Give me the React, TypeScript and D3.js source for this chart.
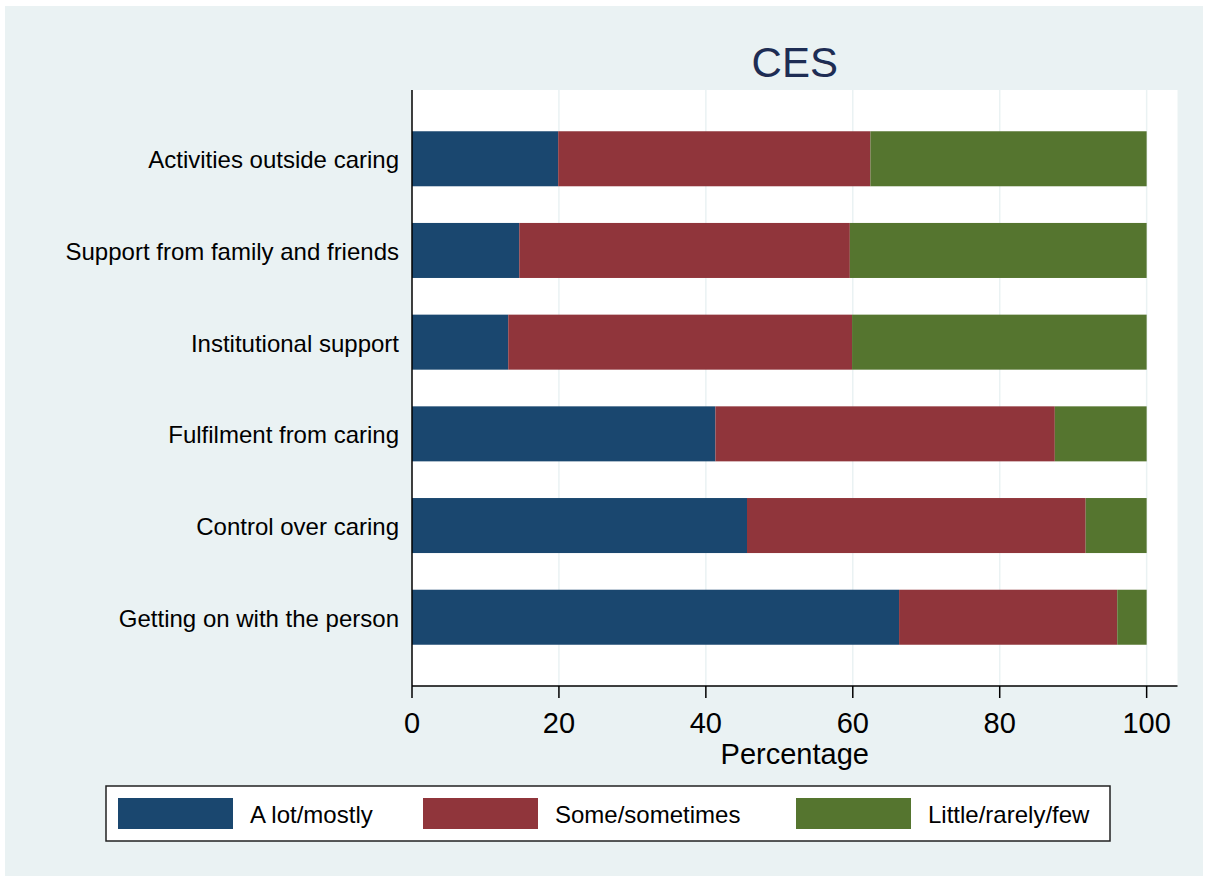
import { useRef, useEffect } from 'react';
import * as d3 from 'd3';

const CATEGORIES = [
  'Activities outside caring',
  'Support from family and friends',
  'Institutional support',
  'Fulfilment from caring',
  'Control over caring',
  'Getting on with the person',
];
const SERIES = ['A lot/mostly', 'Some/sometimes', 'Little/rarely/few'];
const A_LOT = [19.9, 14.6, 13.1, 41.3, 45.6, 66.3];
const SOME = [42.5, 45.0, 46.8, 46.2, 46.1, 29.7];
const LITTLE = [37.6, 40.4, 40.1, 12.5, 8.3, 4.0];
const X_TICKS = [0, 20, 40, 60, 80, 100];
const COLORS = ['#1a476f', '#90353b', '#55752f'];

const W = 1208;
const H = 881;
const FONT = 'Liberation Sans, Arial, sans-serif';

export default function App() {
  const ref = useRef<SVGSVGElement>(null);

  useEffect(() => {
    const svg = d3.select(ref.current);
    svg.selectAll('*').remove();

    // outer background
    svg.append('rect').attr('x', 0).attr('y', 0).attr('width', W).attr('height', H).attr('fill', '#ffffff');
    svg.append('rect').attr('x', 5).attr('y', 6).attr('width', W - 10).attr('height', H - 11).attr('fill', '#eaf2f3');

    const m = { left: 412, right: 1177.5, top: 90, bottom: 686 };
    const x = d3.scaleLinear().domain([0, 104.2]).range([m.left, m.right]);
    const y = d3.scalePoint<string>().domain(CATEGORIES).range([m.top, m.bottom]).padding(0.75);
    const barH = y.step() * 0.6;

    // plot region
    svg.append('rect').attr('x', m.left).attr('y', m.top)
      .attr('width', m.right - m.left).attr('height', m.bottom - m.top).attr('fill', '#ffffff');

    // gridlines
    X_TICKS.filter(t => t > 0).forEach(t => {
      svg.append('line').attr('x1', x(t)).attr('x2', x(t)).attr('y1', m.top).attr('y2', m.bottom)
        .attr('stroke', '#eaf2f3').attr('stroke-width', 1.5);
    });

    // stacked bars
    const rows = CATEGORIES.map((c, i) => ({ cat: c, vals: [A_LOT[i], SOME[i], LITTLE[i]] }));
    rows.forEach(r => {
      let acc = 0;
      r.vals.forEach((v, k) => {
        const y0 = (y(r.cat) as number) - barH / 2;
        svg.append('rect')
          .attr('x', x(acc)).attr('y', y0)
          .attr('width', x(acc + v) - x(acc)).attr('height', barH)
          .attr('fill', COLORS[k]);
        acc += v;
      });
    });

    // category labels
    CATEGORIES.forEach(c => {
      svg.append('text').attr('x', 399).attr('y', (y(c) as number) + 1).attr('dy', '0.35em')
        .attr('text-anchor', 'end').attr('font-family', FONT).attr('font-size', 24)
        .attr('fill', '#000').text(c);
    });

    // axes
    svg.append('line').attr('x1', m.left).attr('x2', m.left).attr('y1', m.top).attr('y2', m.bottom)
      .attr('stroke', '#000').attr('stroke-width', 1.5);
    svg.append('line').attr('x1', m.left).attr('x2', m.right).attr('y1', m.bottom).attr('y2', m.bottom)
      .attr('stroke', '#000').attr('stroke-width', 1.5);
    X_TICKS.forEach(t => {
      svg.append('line').attr('x1', x(t)).attr('x2', x(t)).attr('y1', m.bottom).attr('y2', m.bottom + 12)
        .attr('stroke', '#000').attr('stroke-width', 1.5);
      svg.append('text').attr('x', x(t)).attr('y', 733).attr('text-anchor', 'middle')
        .attr('font-family', FONT).attr('font-size', 29).attr('fill', '#000').text(String(t));
    });
    svg.append('text').attr('x', (m.left + m.right) / 2).attr('y', 764).attr('text-anchor', 'middle')
      .attr('font-family', FONT).attr('font-size', 29).attr('fill', '#000').text('Percentage');

    // title
    svg.append('text').attr('x', (m.left + m.right) / 2).attr('y', 77).attr('text-anchor', 'middle')
      .attr('font-family', FONT).attr('font-size', 42).attr('fill', '#1e2d54').text('CES');

    // legend
    svg.append('rect').attr('x', 106).attr('y', 786).attr('width', 1004).attr('height', 55)
      .attr('fill', '#ffffff').attr('stroke', '#222').attr('stroke-width', 1.5);
    const swX = [118, 423, 796];
    SERIES.forEach((s, k) => {
      svg.append('rect').attr('x', swX[k]).attr('y', 798).attr('width', 115).attr('height', 31)
        .attr('fill', COLORS[k]);
      svg.append('text').attr('x', swX[k] + 132).attr('y', 815).attr('dy', '0.35em')
        .attr('font-family', FONT).attr('font-size', 24).attr('fill', '#000').text(s);
    });
  }, []);

  return (
    <div style={{ position: 'absolute', left: 0, top: 0 }}>
      <svg ref={ref} width={W} height={H} style={{ display: 'block' }} />
    </div>
  );
}
